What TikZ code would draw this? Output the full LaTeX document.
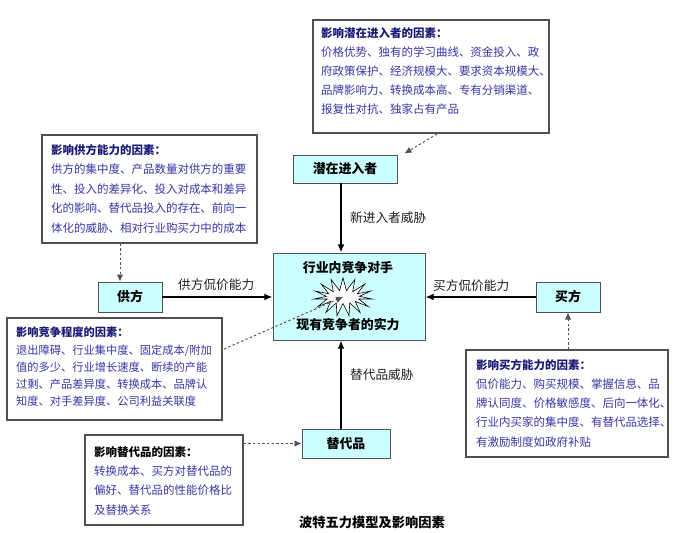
\documentclass[tikz,border=0pt]{standalone}
\usepackage{fontspec}
\setmainfont{Noto Sans CJK SC}
\usetikzlibrary{fit,calc,arrows.meta,shapes.symbols}
\definecolor{cyanfill}{RGB}{204,255,255}
\definecolor{boxline}{RGB}{80,80,80}
\definecolor{titlec}{RGB}{25,25,120}
\definecolor{bodyc}{RGB}{55,55,165}
\definecolor{labelc}{RGB}{30,30,30}
\begin{document}
\begin{tikzpicture}[x=0.03cm,y=-0.03cm,
  factbox/.style={draw=boxline, line width=0.9pt, fill=white, inner sep=0pt},
  facttext/.style={anchor=north west, inner sep=0pt, align=left, text=bodyc,
     font=\fontsize{9.8}{16.4}\selectfont},
  forcebox/.style={draw=boxline, line width=0.8pt, fill=cyanfill, inner sep=0pt,
     font=\bfseries\fontsize{11}{13}\selectfont, text=black},
  arrlabel/.style={anchor=west, inner sep=0pt, text=labelc,
     font=\fontsize{10.8}{13}\selectfont},
  thickarrow/.style={line width=2.2pt, -{Latex[length=7pt,width=6pt]}},
  dasharrow/.style={draw=boxline, line width=0.8pt, dash pattern=on 2pt off 2pt,
     -{Latex[length=6pt,width=5.5pt]}}
]
\useasboundingbox (0,0) rectangle (673,532);

% factor boxes
\node[factbox, fit={(313,20) (549,133)}] (topfac) {};
\node[facttext] (toptext) at (321,27) {{\bfseries\color{titlec}影响潜在进入者的因素：}\\
价格优势、独有的学习曲线、资金投入、政\\
府政策保护、经济规模大、要求资本规模大、\\
品牌影响力、转换成本高、专有分销渠道、\\
报复性对抗、独家占有产品};

\node[factbox, fit={(42,135) (257,243)}] (supfac) {};
\node[facttext, font=\fontsize{9.8}{16.6}\selectfont] (suptext) at (51,144) {{\bfseries\color{titlec}影响供方能力的因素：}\\
供方的集中度、产品数量对供方的重要\\
性、投入的差异化、投入对成本和差异\\
化的影响、替代品投入的存在、前向一\\
体化的威胁、相对行业购买力中的成本};

\node[factbox, fit={(7,318) (222,420)}] (compfac) {};
\node[facttext, font=\fontsize{9.6}{14.6}\selectfont] (comptext) at (16,327) {{\bfseries\color{titlec}影响竞争程度的因素：}\\
退出障碍、行业集中度、固定成本/附加\\
值的多少、行业增长速度、断续的产能\\
过剩、产品差异度、转换成本、品牌认\\
知度、对手差异度、公司利益关联度};

\node[factbox, fit={(466,350) (668,457)}] (buyfac) {};
\node[facttext] (buytext) at (476,359) {{\bfseries\color{titlec}影响买方能力的因素：}\\
侃价能力、购买规模、掌握信息、品\\
牌认同度、价格敏感度、后向一体化、\\
行业内买家的集中度、有替代品选择、\\
有激励制度如政府补贴};

\node[factbox, fit={(85,435) (243,525)}] (subfac) {};
\node[facttext, font=\fontsize{9.8}{16.6}\selectfont] (subtext) at (94,446) {{\bfseries\color{black}影响替代品的因素：}\\
转换成本、买方对替代品的\\
偏好、替代品的性能价格比\\
及替换关系};

% force boxes
\node[forcebox, fit={(293,155) (397,183)}, label={[font=\bfseries\fontsize{11}{13}\selectfont]center:潜在进入者}] (ent) {};
\node[forcebox, fit={(98,282) (162,312)}, label={[font=\bfseries\fontsize{11}{13}\selectfont]center:供方}] (sup) {};
\node[forcebox, fit={(536,282) (600,312)}, label={[font=\bfseries\fontsize{11}{13}\selectfont]center:买方}] (buy) {};
\node[forcebox, fit={(302,429) (390,458)}, label={[font=\bfseries\fontsize{11}{13}\selectfont]center:替代品}] (sub) {};
\node[forcebox, fit={(273,253) (425,340)}] (rival) {};
\node[font=\bfseries\fontsize{11}{13}\selectfont, inner sep=0pt] (rivtop) at (348,268) {行业内竞争对手};
\node[font=\bfseries\fontsize{11}{13}\selectfont, inner sep=0pt] (rivbot) at (348,325) {现有竞争者的实力};
\node[starburst, draw=black, line width=0.5pt, fill=white, starburst points=15,
  starburst point height=0.38cm, random starburst=0, minimum width=1.75cm,
  minimum height=1.15cm, inner sep=0pt] (star) at (343,297) {};

% main arrows
\coordinate (vx) at (341,0);
\draw[thickarrow] (ent.south -| vx) -- (rival.north -| vx);
\draw[thickarrow] (sub.north -| vx) -- (rival.south -| vx);
\draw[thickarrow] (sup.east) -- (sup.east -| rival.west);
\draw[thickarrow] (buy.west) -- (buy.west -| rival.east);

\node[arrlabel] (lnew) at (350,218) {新进入者威胁};
\node[arrlabel] (lsup) at (178,285) {供方侃价能力};
\node[arrlabel] (lbuy) at (433,286) {买方侃价能力};
\node[arrlabel] (lsub) at (350,375) {替代品威胁};

% dashed arrows
\coordinate (d1) at (437,134);
\draw[dasharrow] (d1) -- ($(ent.north east)+(7,-1)$);
\coordinate (d2) at (120,0);
\draw[dasharrow] (supfac.south -| d2) -- (sup.north -| d2);
\draw[dasharrow] (buyfac.north -| buy) -- (buy.south);
\coordinate (d4) at (224,349);
\draw[dasharrow] (d4) -- (star.center);
\draw[dasharrow] (subfac.east |- sub.west) -- (sub.west);

% caption
\node[font=\bfseries\fontsize{11.3}{13}\selectfont, inner sep=0pt] (caption) at (372,522) {波特五力模型及影响因素};
\end{tikzpicture}
\end{document}
